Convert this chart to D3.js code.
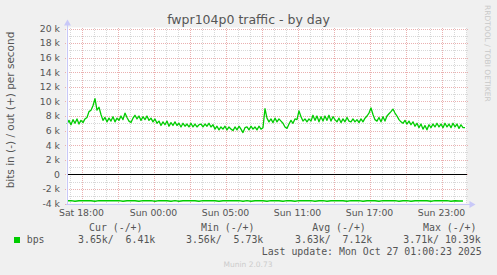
<!DOCTYPE html>
<html>
<head>
<meta charset="utf-8">
<script src="https://cdn.jsdelivr.net/npm/d3@7"></script>
<style>
html, body { margin: 0; padding: 0; background: #f0f0f0; }
svg { display: block; }
text { font-family: "DejaVu Sans", sans-serif; }
.mono { font-family: "DejaVu Sans Mono", monospace; white-space: pre; }
</style>
</head>
<body>
<svg id="chart" width="497" height="275"></svg>
<script>
// ---- data ----
const title = "fwpr104p0 traffic - by day";
const yAxisTitle = "bits in (-) / out (+) per second";
const sideText = "RRDTOOL / TOBI OETIKER";
const footerText = "Munin 2.0.73";
const lastUpdate = "Last update: Mon Oct 27 01:00:23 2025";

// x axis: hours since Sat 18:00 (clock fell back one hour during the night)
const xDomainHours = [-1.25, 32.0833];
const xTickHours = [0, 6, 12, 18, 24, 30];
const xTickLabels = ["Sat 18:00", "Sun 00:00", "Sun 05:00", "Sun 11:00", "Sun 17:00", "Sun 23:00"];

const yDomain = [-4000, 20000];
const yTickValues = [-4000, -2000, 0, 2000, 4000, 6000, 8000, 10000, 12000, 14000, 16000, 18000, 20000];
const yTickLabels = ["-4 k", "-2 k", "0", "2 k", "4 k", "6 k", "8 k", "10 k", "12 k", "14 k", "16 k", "18 k", "20 k"];

// out (+) series, k bits/s, one sample every 10 minutes
const outStartHour = -1.21;
const outStepHours = 1 / 6;
const outValues = [
  6.9, 7.4, 6.8, 7.5, 7.0, 7.6, 6.9, 7.4, 7.1, 7.6,
  7.8, 8.6, 8.8, 9.4, 10.39, 8.8, 9.2, 8.2, 7.4, 7.8,
  7.2, 7.7, 7.3, 7.9, 7.2, 7.7, 7.4, 8.0, 7.5, 8.4,
  7.8, 7.3, 7.1, 7.7, 8.1, 7.6, 8.0, 7.4, 7.9, 7.5,
  8.0, 7.4, 7.7, 7.2, 7.6, 7.0, 7.3, 6.7, 7.2, 6.8,
  7.3, 6.6, 7.1, 6.7, 7.2, 6.7, 7.0, 6.5, 7.0, 6.6,
  6.9, 6.5, 7.0, 6.5, 6.9, 6.5, 6.8, 6.9, 6.5, 6.9,
  6.6, 7.0, 6.5, 6.8, 6.2, 6.6, 6.1, 6.5, 6.2, 6.6,
  6.1, 6.5, 6.2, 6.0, 6.5, 6.1, 6.6, 6.2, 5.73, 6.4,
  6.5, 6.1, 6.6, 6.2, 6.5, 6.1, 6.6, 6.2, 6.4, 9.0,
  7.7, 7.2, 7.6, 7.1, 7.7, 7.2, 7.6, 7.3, 7.0, 6.5,
  6.3, 6.9, 7.4, 7.0, 7.6, 7.5, 8.7, 7.9, 7.3, 7.6,
  7.2, 7.6, 7.3, 8.1, 7.4, 8.0, 7.2, 7.9, 7.3, 8.0,
  7.4, 8.1, 7.3, 7.9, 7.5, 7.2, 7.7, 7.1, 7.6, 7.2,
  7.8, 7.3, 7.2, 7.6, 7.2, 7.5, 7.1, 7.6, 7.2, 7.7,
  8.0, 8.4, 9.1, 8.2, 7.5, 7.3, 7.8, 7.2, 7.9, 7.3,
  8.0, 8.3, 8.6, 8.95, 8.4, 8.0, 7.5, 7.2, 7.0, 7.4,
  6.9, 7.3, 6.8, 7.2, 6.6, 7.0, 6.4, 6.9, 6.2, 6.7,
  6.1, 6.8, 6.4, 6.9, 6.5, 7.0, 6.5, 6.9, 6.4, 7.0,
  6.5, 6.9, 6.4, 7.0, 6.5, 6.9, 6.3, 6.8, 6.4, 6.41
];

// in (-) series, k bits/s (drawn negative), one sample every 20 minutes
const inStartHour = -1.21;
const inStepHours = 1 / 3;
const inValues = [
  3.62, 3.61, 3.70, 3.62, 3.61, 3.62, 3.62, 3.70, 3.61, 3.62,
  3.61, 3.62, 3.62, 3.61, 3.70, 3.62, 3.61, 3.62, 3.70, 3.61,
  3.62, 3.61, 3.70, 3.61, 3.62, 3.62, 3.70, 3.61, 3.70, 3.62,
  3.61, 3.62, 3.62, 3.70, 3.61, 3.62, 3.61, 3.62, 3.70, 3.62,
  3.61, 3.62, 3.62, 3.61, 3.70, 3.61, 3.70, 3.62, 3.61, 3.62,
  3.70, 3.61, 3.62, 3.62, 3.70, 3.61, 3.62, 3.70, 3.61, 3.62,
  3.62, 3.61, 3.70, 3.62, 3.61, 3.70, 3.62, 3.61, 3.62, 3.62,
  3.70, 3.61, 3.62, 3.61, 3.70, 3.62, 3.61, 3.62, 3.70, 3.61,
  3.62, 3.62, 3.61, 3.70, 3.62, 3.61, 3.70, 3.62, 3.61, 3.62,
  3.62, 3.70, 3.61, 3.62, 3.62, 3.61, 3.70, 3.62, 3.65, 3.65
];

// legend
const seriesName = "bps";
const legendHeaders = ["Cur (-/+)", "Min (-/+)", "Avg (-/+)", "Max (-/+)"];
const legendValues = ["3.65k/  6.41k", "3.56k/  5.73k", "3.63k/  7.12k", "3.71k/ 10.39k"];

// ---- drawing ----
const svg = d3.select("#chart");
const plot = { left: 66.5, right: 466.5, top: 28.5, bottom: 203.5 };
const x = d3.scaleLinear().domain(xDomainHours).range([plot.left, plot.right]);
const y = d3.scaleLinear().domain(yDomain).range([plot.bottom, plot.top]);
const px = v => Math.round(v) + 0.5;

svg.append("rect").attr("width", 497).attr("height", 275).attr("fill", "#f0f0f0");
svg.append("rect")
  .attr("x", plot.left).attr("y", plot.top - 1)
  .attr("width", plot.right - plot.left).attr("height", plot.bottom - plot.top + 1)
  .attr("fill", "#ffffff");

const grid = svg.append("g").attr("shape-rendering", "crispEdges");
const minorColor = "#d8d8d8";
const majorColor = "#eab0b0";

// horizontal minor grid (every 1k)
const yMinor = d3.range(yDomain[0] + 1000, yDomain[1] + 1, 2000);
grid.selectAll(".hmin").data(yMinor).join("line")
  .attr("x1", plot.left).attr("x2", plot.right + 2)
  .attr("y1", d => px(y(d))).attr("y2", d => px(y(d)))
  .attr("stroke", minorColor).attr("stroke-dasharray", "1,1");
// vertical minor grid (every hour)
const xMinor = d3.range(-1, 33, 1).filter(h => x(h) < plot.right);
grid.selectAll(".vmin").data(xMinor).join("line")
  .attr("x1", d => px(x(d))).attr("x2", d => px(x(d)))
  .attr("y1", plot.top - 1).attr("y2", plot.bottom)
  .attr("stroke", minorColor).attr("stroke-dasharray", "1,1");
// horizontal major grid
grid.selectAll(".hmaj").data(yTickValues).join("line")
  .attr("x1", plot.left - 2).attr("x2", plot.right + 2)
  .attr("y1", d => px(y(d))).attr("y2", d => px(y(d)))
  .attr("stroke", majorColor).attr("stroke-dasharray", "1,1");
// vertical major grid (every 3 hours)
const xMajor = d3.range(0, 33, 3).filter(h => x(h) < plot.right);
grid.selectAll(".vmaj").data(xMajor).join("line")
  .attr("x1", d => px(x(d))).attr("x2", d => px(x(d)))
  .attr("y1", plot.top - 1).attr("y2", plot.bottom + 2)
  .attr("stroke", majorColor).attr("stroke-dasharray", "1,1");

// series lines
const line = d3.line().x(d => x(d[0])).y(d => y(d[1]));
const outPts = outValues.map((v, i) => [outStartHour + i * outStepHours, v * 1000]);
const inPts = inValues.map((v, i) => [inStartHour + i * inStepHours, -v * 1000]);
svg.append("path").attr("d", line(inPts)).attr("fill", "none")
  .attr("stroke", "#00cc00").attr("stroke-width", 1.4).attr("stroke-linejoin", "round");
svg.append("path").attr("d", line(outPts)).attr("fill", "none")
  .attr("stroke", "#00cc00").attr("stroke-width", 1.3).attr("stroke-linejoin", "round");

// zero line
svg.append("line")
  .attr("x1", plot.left).attr("x2", plot.right)
  .attr("y1", px(y(0))).attr("y2", px(y(0)))
  .attr("stroke", "#000000").attr("stroke-width", 1).attr("shape-rendering", "crispEdges");

// axes
const axisColor = "#c8c8f8";
svg.append("line").attr("x1", px(plot.left)).attr("x2", px(plot.left))
  .attr("y1", plot.bottom + 1).attr("y2", plot.top - 4)
  .attr("stroke", axisColor).attr("shape-rendering", "crispEdges");
svg.append("line").attr("x1", plot.left - 1).attr("x2", plot.right + 4)
  .attr("y1", px(plot.bottom)).attr("y2", px(plot.bottom))
  .attr("stroke", axisColor).attr("shape-rendering", "crispEdges");
const ax = px(plot.left), ay = plot.top - 9;
svg.append("path").attr("d", `M${ax - 3.5},${ay + 6} L${ax},${ay} L${ax + 3.5},${ay + 6} Z`).attr("fill", axisColor);
const bx = plot.right + 9, by = px(plot.bottom);
svg.append("path").attr("d", `M${bx - 6},${by - 3.5} L${bx},${by} L${bx - 6},${by + 3.5} Z`).attr("fill", axisColor);

// tick labels
const labelColor = "#555555";
svg.append("g").selectAll("text").data(yTickValues).join("text")
  .attr("x", 60).attr("y", d => y(d) + 3.4)
  .attr("text-anchor", "end").attr("font-size", 9.3).attr("fill", labelColor)
  .text((d, i) => yTickLabels[i]);
svg.append("g").selectAll("text").data(xTickHours).join("text")
  .attr("x", d => x(d)).attr("y", 215.5)
  .attr("text-anchor", "middle").attr("font-size", 9.3).attr("fill", labelColor)
  .text((d, i) => xTickLabels[i]);

// title
svg.append("text").attr("x", 248.5).attr("y", 23.5).attr("text-anchor", "middle")
  .attr("font-size", 12.5).attr("fill", "#555555").text(title);
// y axis title
svg.append("text").attr("transform", "translate(13.5,110) rotate(-90)")
  .attr("text-anchor", "middle").attr("font-size", 10.5).attr("fill", "#555555").text(yAxisTitle);
// side text
svg.append("text").attr("transform", "translate(484.5,5) rotate(90)")
  .attr("text-anchor", "start").attr("font-size", 7.5).attr("fill", "#c8c8c8").text(sideText);

// legend
const monoSize = 9.9;
const headerX = [89, 201, 312.3, 423];
const valueX = [78, 186, 295, 403.3];
svg.append("g").selectAll("text").data(legendHeaders).join("text")
  .attr("class", "mono").attr("x", (d, i) => headerX[i]).attr("y", 231.3)
  .attr("font-size", monoSize).attr("fill", labelColor).text(d => d);
svg.append("g").selectAll("text").data(legendValues).join("text")
  .attr("class", "mono").attr("x", (d, i) => valueX[i]).attr("y", 243)
  .attr("font-size", monoSize).attr("fill", labelColor).text(d => d);
svg.append("rect").attr("x", 14).attr("y", 237).attr("width", 6).attr("height", 6)
  .attr("fill", "#00cc00");
svg.append("text").attr("class", "mono").attr("x", 26.7).attr("y", 243)
  .attr("font-size", monoSize).attr("fill", labelColor).text(seriesName);
svg.append("text").attr("class", "mono").attr("x", 261.7).attr("y", 254.8)
  .attr("font-size", monoSize).attr("fill", labelColor).text(lastUpdate);
svg.append("text").attr("x", 248).attr("y", 267).attr("text-anchor", "middle")
  .attr("font-size", 7.5).attr("fill", "#cccccc").text(footerText);
</script>
</body>
</html>
